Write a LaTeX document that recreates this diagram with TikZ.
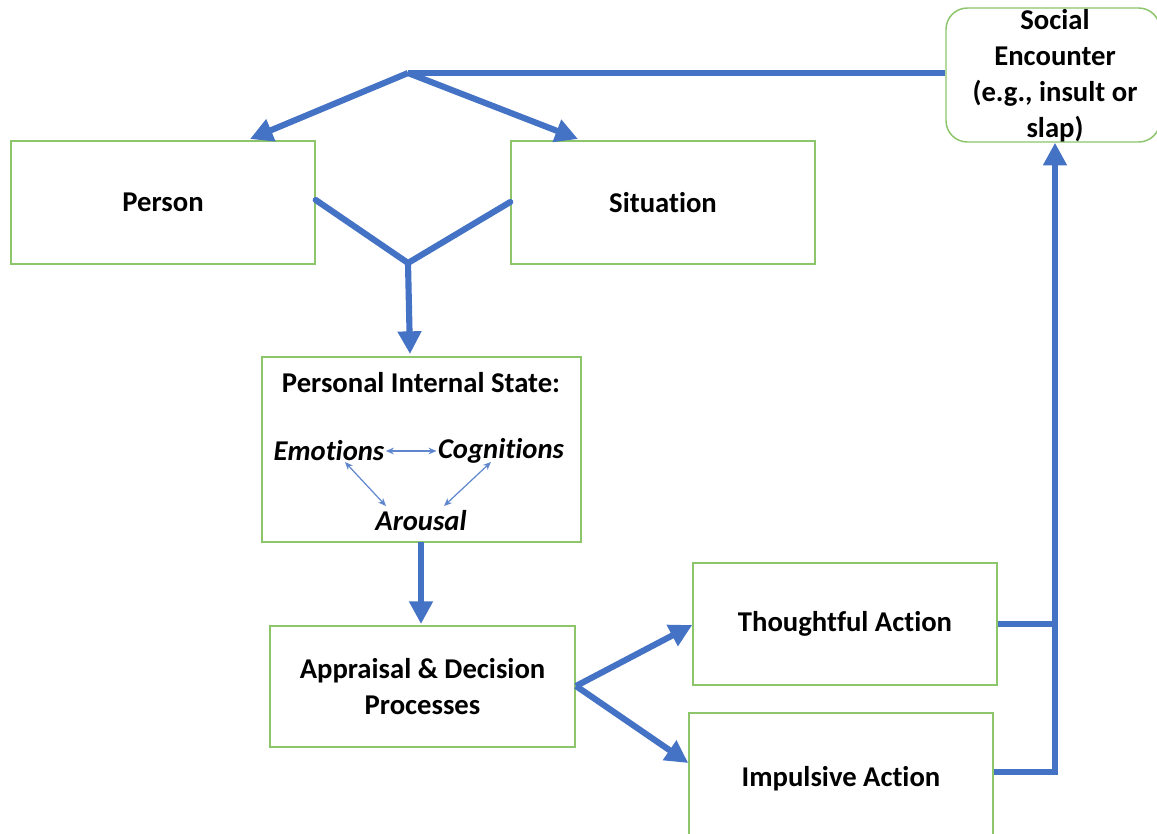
\documentclass[tikz,border=0pt]{standalone}
\usepackage{fontspec}
\setmainfont[Ligatures=NoCommon]{Carlito}
\usetikzlibrary{arrows.meta}
\definecolor{flowblue}{HTML}{4472C4}
\definecolor{boxgreen}{HTML}{8CC56A}
\begin{document}
\begin{tikzpicture}[x=0.75pt,y=-0.75pt,
  box/.style={draw=boxgreen,line width=1.1pt,fill=white,inner sep=0pt,align=center,
    font=\fontsize{21.5}{27}\selectfont\bfseries},
  flow/.style={draw=flowblue,line width=4.6pt},
  flowarrow/.style={flow,-{Triangle[length=17pt,width=17pt]}},
  thinarrow/.style={draw=flowblue!85,line width=0.9pt,{Stealth[length=6pt,width=5pt]}-{Stealth[length=6pt,width=5pt]}},
  inner/.style={font=\fontsize{21.5}{24}\selectfont\bfseries\itshape,inner sep=1pt}]
\useasboundingbox (0,0) rectangle (1157,833);
\fill[white] (0,0) rectangle (1157,833);

% boxes
\node[box,minimum width=304*0.75pt,minimum height=123*0.75pt] (person) at (163,202.5) {Person};
\node[box,minimum width=304*0.75pt,minimum height=123*0.75pt] (situation) at (663,202.5) {Situation};
\node[box,rounded corners=16pt,minimum width=214*0.75pt,minimum height=134*0.75pt] (social) at (1053,75) {};
\node[font=\fontsize{21.5}{27}\selectfont\bfseries,align=center] (socialtext) at (1055,76) {Social\\Encounter\\(e.g., insult or\\slap)};
\node[box,minimum width=319*0.75pt,minimum height=185*0.75pt] (state) at (421.5,449.5) {};
\node[font=\fontsize{21.5}{24}\selectfont\bfseries] (statetitle) at (421,383) {Personal Internal State:};
\node[inner] (emo) at (329,451) {Emotions};
\node[inner] (cog) at (501,451) {Cognitions};
\node[inner] (aro) at (421,521) {Arousal};
\node[box,minimum width=305*0.75pt,minimum height=121*0.75pt] (appraisal) at (422.5,686.5) {Appraisal \& Decision\\Processes};
\node[box,minimum width=304*0.75pt,minimum height=122*0.75pt] (thought) at (845,624) {Thoughtful Action};
\node[box,minimum width=304*0.75pt,minimum height=126*0.75pt,text depth=0pt] (impulse) at (841,776) {Impulsive Action};

% coordinates for joints
\coordinate (apex) at (408,73);
\coordinate (vjoin) at (408,263);
\coordinate (fork) at (576,686);
\coordinate (rjoin) at (1055,624);
\coordinate (rbottom) at (1055,772);

% top distribution
\draw[flow] (social.west |- apex) -- (apex);
\draw[flowarrow] (apex) -- (250,139);
\draw[flowarrow] (apex) -- (578,139);

% merge into internal state
\draw[flow,line cap=round] (person.east |- 0,200) -- (vjoin) -- (situation.west |- 0,202);
\draw[flowarrow] (vjoin) -- (410,354);

% internal state to appraisal
\draw[flowarrow] (421,542) -- (421,624);

% appraisal fork
\draw[flowarrow] (fork) -- (thought.west |- 0,625);
\draw[flowarrow] (fork) -- (impulse.west |- 0,763);

% feedback to social encounter
\draw[flow] (thought.east |- rjoin) -- (rjoin);
\draw[flow] (impulse.east |- rbottom) -- (rbottom) -- (rjoin);
\draw[flowarrow] (rjoin) -- (social.south -| rjoin);

% inner thin arrows
\draw[thinarrow] (emo.east) -- (cog.west);
\draw[thinarrow] (345,462) -- (386,506);
\draw[thinarrow] (491,462) -- (444,506);
\end{tikzpicture}
\end{document}
